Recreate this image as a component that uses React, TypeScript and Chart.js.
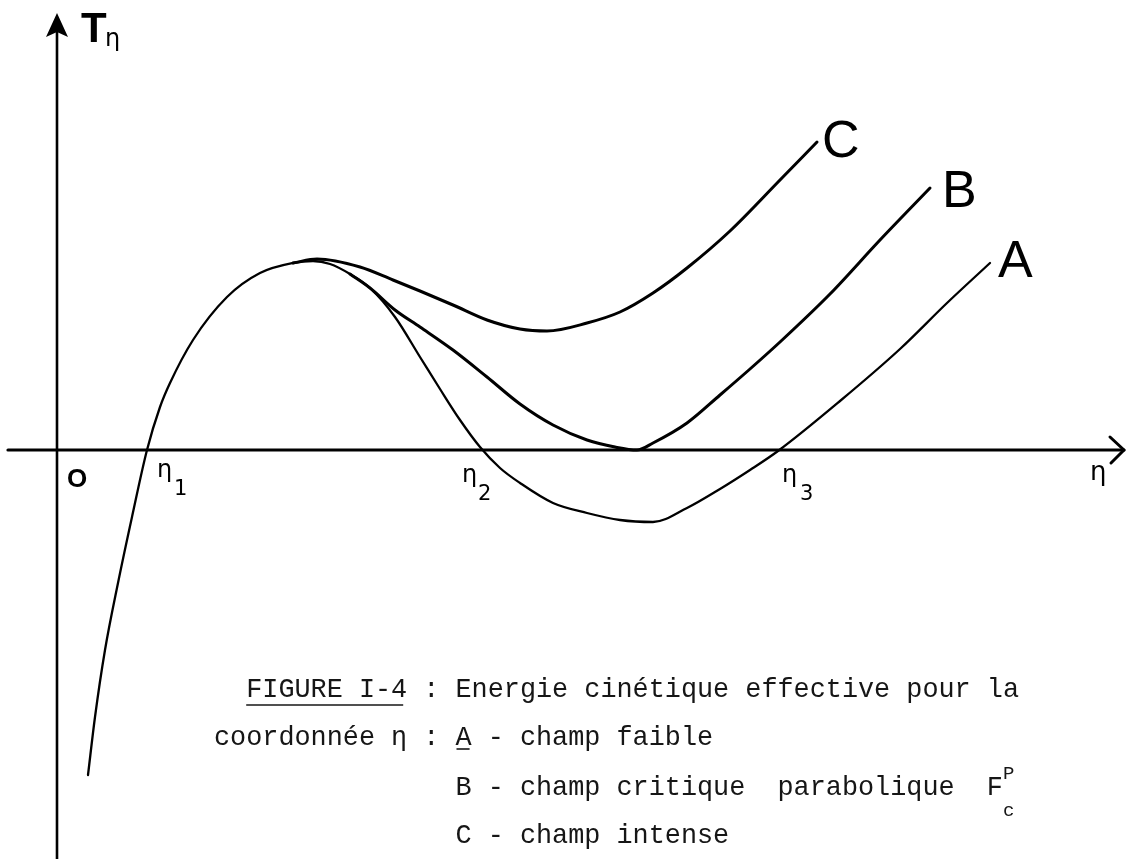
import React, { useEffect, useRef } from "react";
import { Chart, registerables } from "chart.js";

Chart.register(...registerables);

// Effective kinetic energy T_η against the coordinate η.
// A – weak field (shares the rising branch with B and C)
const etaA = [0.31, 0.38, 0.48, 0.61, 0.75, 0.9, 1.03, 1.13, 1.36, 1.7, 2.03, 2.36, 2.56, 2.73, 2.93, 3.13, 3.38, 3.63, 3.83, 4.03, 4.23, 4.43, 4.63, 4.96, 5.3, 5.63, 5.96, 6.3, 6.63, 6.93, 7.21, 7.83, 8.43, 8.9, 9.33];
const tA = [-3.25, -2.67, -2.0, -1.33, -0.67, 0.0, 0.43, 0.67, 1.1, 1.53, 1.77, 1.87, 1.89, 1.86, 1.76, 1.62, 1.33, 0.93, 0.61, 0.3, 0.03, -0.18, -0.33, -0.53, -0.63, -0.7, -0.72, -0.58, -0.39, -0.2, -0.01, 0.49, 1.01, 1.47, 1.87];

// B – critical parabolic field (minimum just touching T = 0)
const etaB = [2.93, 3.13, 3.38, 3.63, 3.96, 4.3, 4.63, 4.96, 5.3, 5.58, 5.8, 5.96, 6.3, 6.63, 6.93, 7.23, 7.73, 8.23, 8.73];
const tB = [1.76, 1.62, 1.4, 1.23, 1.0, 0.73, 0.46, 0.25, 0.1, 0.03, 0.0, 0.07, 0.27, 0.55, 0.81, 1.08, 1.56, 2.1, 2.62];

// C – intense field
const etaC = [2.36, 2.6, 3.03, 3.36, 3.63, 3.96, 4.3, 4.63, 4.9, 5.3, 5.63, 5.96, 6.3, 6.73, 7.23, 7.6];
const tC = [1.87, 1.91, 1.83, 1.7, 1.59, 1.45, 1.3, 1.21, 1.19, 1.27, 1.38, 1.57, 1.82, 2.19, 2.7, 3.08];

// Zeros of T_η for the weak field: η1, η2, η3
const roots = [0.9, 4.25, 7.21];
const rootSubscripts = ["1", "2", "3"];

const curveNames = ["A", "B", "C"];

// Axis extents (data units)
const etaRange = [-0.57, 10.7];
const tRange = [-4.09, 4.5];
const axisEtaStart = -0.49;
const axisEtaEnd = 10.67;
const axisTTop = 4.37;

// Caption (typewriter)
const captionLines = [
  "  FIGURE I-4 : Energie cinétique effective pour la",
  "coordonnée η : A - champ faible",
  "               B - champ critique  parabolique  F",
  "               C - champ intense",
];

const zip = (xs: number[], ys: number[]) => xs.map((x, i) => ({ x, y: ys[i] }));

const figurePlugin = {
  id: "figureDecor",
  beforeDatasetsDraw(chart: any) {
    const { ctx, scales } = chart;
    const sx = scales.x;
    const sy = scales.y;
    const x0 = sx.getPixelForValue(0);
    const y0 = sy.getPixelForValue(0);
    const xStart = sx.getPixelForValue(axisEtaStart);
    const xEnd = sx.getPixelForValue(axisEtaEnd);
    const yTop = sy.getPixelForValue(axisTTop);
    ctx.save();
    ctx.strokeStyle = "#000";
    ctx.fillStyle = "#000";
    ctx.lineCap = "round";
    ctx.lineJoin = "round";

    // η axis with open arrowhead
    ctx.lineWidth = 3.2;
    ctx.beginPath();
    ctx.moveTo(xStart, y0);
    ctx.lineTo(xEnd, y0);
    ctx.stroke();
    ctx.lineWidth = 3;
    ctx.beginPath();
    ctx.moveTo(xEnd - 14, y0 - 13);
    ctx.lineTo(xEnd, y0);
    ctx.lineTo(xEnd - 13, y0 + 13);
    ctx.stroke();

    // T axis with filled arrowhead
    ctx.lineWidth = 2.6;
    ctx.beginPath();
    ctx.moveTo(x0, chart.height);
    ctx.lineTo(x0, yTop + 12);
    ctx.stroke();
    ctx.beginPath();
    ctx.moveTo(x0, yTop);
    ctx.lineTo(x0 - 11, yTop + 24);
    ctx.lineTo(x0, yTop + 19);
    ctx.lineTo(x0 + 11, yTop + 24);
    ctx.closePath();
    ctx.fill();
    ctx.restore();
  },
  afterDatasetsDraw(chart: any) {
    const { ctx, scales } = chart;
    const sx = scales.x;
    const sy = scales.y;
    const x0 = sx.getPixelForValue(0);
    const y0 = sy.getPixelForValue(0);
    const xEnd = sx.getPixelForValue(axisEtaEnd);
    const yTop = sy.getPixelForValue(axisTTop);
    ctx.save();
    ctx.fillStyle = "#000";
    ctx.textAlign = "left";
    ctx.textBaseline = "alphabetic";

    // axis titles
    ctx.font = "bold 42px 'Liberation Sans', Arial, sans-serif";
    ctx.fillText("T", x0 + 24, yTop + 29);
    ctx.font = "24px 'DejaVu Sans', sans-serif";
    ctx.fillText("η", x0 + 48, yTop + 33);
    ctx.font = "26px 'DejaVu Sans', sans-serif";
    ctx.fillText("η", xEnd - 34, y0 + 30);

    // origin
    ctx.font = "bold 26px 'Liberation Sans', Arial, sans-serif";
    ctx.fillText("O", x0 + 10, y0 + 37);

    // zeros η1, η2, η3
    const rootOffsets = [
      [10, 27, 27, 45],
      [-20, 32, -4, 50],
      [4, 32, 22, 50],
    ];
    roots.forEach((r, i) => {
      const px = sx.getPixelForValue(r);
      const [dx, dy, sdx, sdy] = rootOffsets[i];
      ctx.font = "24px 'DejaVu Sans', sans-serif";
      ctx.fillText("η", px + dx, y0 + dy);
      ctx.font = "21px 'DejaVu Sans', sans-serif";
      ctx.fillText(rootSubscripts[i], px + sdx, y0 + sdy);
    });

    // curve names at the end of each curve
    const ends = [
      { x: etaA[etaA.length - 1], y: tA[tA.length - 1], dx: 8, dy: 14 },
      { x: etaB[etaB.length - 1], y: tB[tB.length - 1], dx: 12, dy: 19 },
      { x: etaC[etaC.length - 1], y: tC[tC.length - 1], dx: 5, dy: 15 },
    ];
    ctx.font = "52px 'Liberation Sans', Arial, sans-serif";
    ends.forEach((e, i) => {
      ctx.fillText(curveNames[i], sx.getPixelForValue(e.x) + e.dx, sy.getPixelForValue(e.y) + e.dy);
    });

    // caption
    const col0 = 214;
    const pitch = 16.1;
    const baselines = [697, 745, 795, 843];
    ctx.fillStyle = "#161616";
    ctx.font = `${pitch / 0.6}px 'Liberation Mono', 'Courier New', monospace`;
    captionLines.forEach((line, i) => ctx.fillText(line, col0, baselines[i]));
    ctx.font = "19px 'Liberation Mono', 'Courier New', monospace";
    ctx.fillText("P", col0 + 49 * pitch, 779);
    ctx.fillText("c", col0 + 49 * pitch, 816);
    ctx.strokeStyle = "#161616";
    ctx.lineWidth = 1.6;
    ctx.beginPath();
    ctx.moveTo(col0 + 2 * pitch, 705);
    ctx.lineTo(col0 + 12 * pitch - 4, 705);
    ctx.stroke();
    ctx.beginPath();
    ctx.moveTo(col0 + 15 * pitch + 1, 749);
    ctx.lineTo(col0 + 16 * pitch - 2, 749);
    ctx.stroke();
    ctx.restore();
  },
};

export default function App() {
  const ref = useRef<HTMLCanvasElement>(null);

  useEffect(() => {
    const canvas = ref.current;
    if (!canvas) return;
    const chart = new Chart(canvas, {
      type: "scatter",
      data: {
        datasets: [
          { label: "A", data: zip(etaA, tA), borderWidth: 2.3 },
          { label: "B", data: zip(etaB, tB), borderWidth: 3 },
          { label: "C", data: zip(etaC, tC), borderWidth: 3 },
        ].map((d) => ({
          ...d,
          showLine: true,
          borderColor: "#000",
          backgroundColor: "#000",
          pointRadius: 0,
          cubicInterpolationMode: "monotone" as const,
          borderCapStyle: "round" as const,
        })),
      },
      options: {
        responsive: false,
        animation: false,
        events: [],
        layout: { padding: 0 },
        scales: {
          x: { type: "linear", min: etaRange[0], max: etaRange[1], display: false },
          y: { type: "linear", min: tRange[0], max: tRange[1], display: false },
        },
        plugins: {
          legend: { display: false },
          tooltip: { enabled: false },
        },
      },
      plugins: [figurePlugin],
    });
    return () => chart.destroy();
  }, []);

  return (
    <div style={{ position: "fixed", left: 0, top: 0, width: 1127, height: 859, background: "#fff" }}>
      <canvas ref={ref} width={1127} height={859} style={{ display: "block" }} />
    </div>
  );
}
